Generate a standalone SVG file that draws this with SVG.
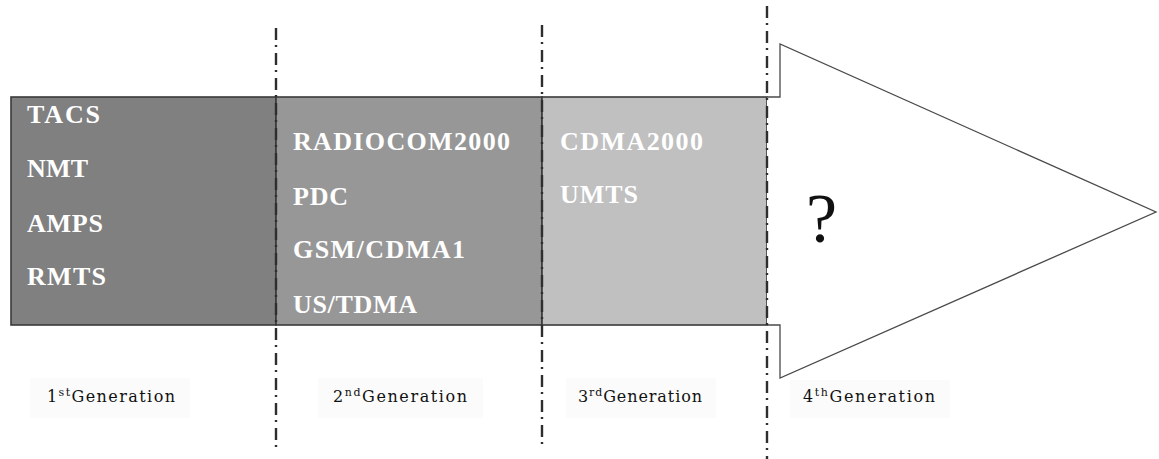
<svg xmlns="http://www.w3.org/2000/svg" width="1159" height="459" viewBox="0 0 1159 459">
<style>
.box{stroke:#3a3a3a;stroke-width:1.6}
.w{font-family:"Liberation Serif","Times New Roman",serif;font-weight:bold;font-size:26px;fill:#ffffff}
.g{font-family:"DejaVu Serif","Liberation Serif",serif;font-size:16px;fill:#111111}
.sup{font-size:11px}
.div{stroke:#2e2e2e;stroke-width:2.4;fill:none;stroke-dasharray:12 5 2 6}
.lab{fill:#fbfbfb}
</style>
<rect width="1159" height="459" fill="#ffffff"/>
<g id="gen1">
<rect class="box" x="11" y="97" width="265" height="228" fill="#808080"/>
<text class="w" x="27" y="123" textLength="73" lengthAdjust="spacing">TACS</text>
<text class="w" x="27" y="177" textLength="61" lengthAdjust="spacing">NMT</text>
<text class="w" x="27" y="232" textLength="76" lengthAdjust="spacing">AMPS</text>
<text class="w" x="27" y="285" textLength="79" lengthAdjust="spacing">RMTS</text>
</g>
<g id="gen2">
<rect class="box" x="276" y="97" width="266" height="228" fill="#979797"/>
<text class="w" x="293" y="150" textLength="217" lengthAdjust="spacing">RADIOCOM2000</text>
<text class="w" x="293" y="205" textLength="55" lengthAdjust="spacing">PDC</text>
<text class="w" x="293" y="258" textLength="172" lengthAdjust="spacing">GSM/CDMA1</text>
<text class="w" x="293" y="313" textLength="124" lengthAdjust="spacing">US/TDMA</text>
</g>
<g id="gen3">
<rect class="box" x="542" y="97" width="225" height="228" fill="#c0c0c0"/>
<text class="w" x="560" y="150" textLength="143" lengthAdjust="spacing">CDMA2000</text>
<text class="w" x="560" y="203" textLength="78" lengthAdjust="spacing">UMTS</text>
</g>
<g id="gen4">
<path d="M767,97 L780,97 L780,44 L1156,212 L780,378 L780,325 L767,325" fill="#ffffff" stroke="#4a4a4a" stroke-width="1.3" stroke-linejoin="miter"/>
<text x="806" y="242" font-family="'Liberation Serif','Times New Roman',serif" font-size="70" fill="#111111">?</text>
</g>
<g id="labels">
<rect class="lab" x="30" y="378" width="160" height="40"/>
<rect class="lab" x="318" y="378" width="165" height="40"/>
<rect class="lab" x="566" y="378" width="150" height="40"/>
<rect class="lab" x="790" y="380" width="160" height="38"/>
<text class="g" x="47" y="402" textLength="128" lengthAdjust="spacing">1<tspan class="sup" dy="-6">st</tspan><tspan dy="6">Generation</tspan></text>
<text class="g" x="333" y="402" textLength="134" lengthAdjust="spacing">2<tspan class="sup" dy="-6">nd</tspan><tspan dy="6">Generation</tspan></text>
<text class="g" x="578" y="402" textLength="124" lengthAdjust="spacing">3<tspan class="sup" dy="-6">rd</tspan><tspan dy="6">Generation</tspan></text>
<text class="g" x="803" y="402" textLength="132" lengthAdjust="spacing">4<tspan class="sup" dy="-6">th</tspan><tspan dy="6">Generation</tspan></text>
</g>
<g id="connectors">
<line class="div" x1="276" y1="28" x2="276" y2="450"/>
<line class="div" x1="542" y1="25" x2="542" y2="448"/>
<line class="div" x1="767" y1="6" x2="767" y2="459"/>
</g>
</svg>
